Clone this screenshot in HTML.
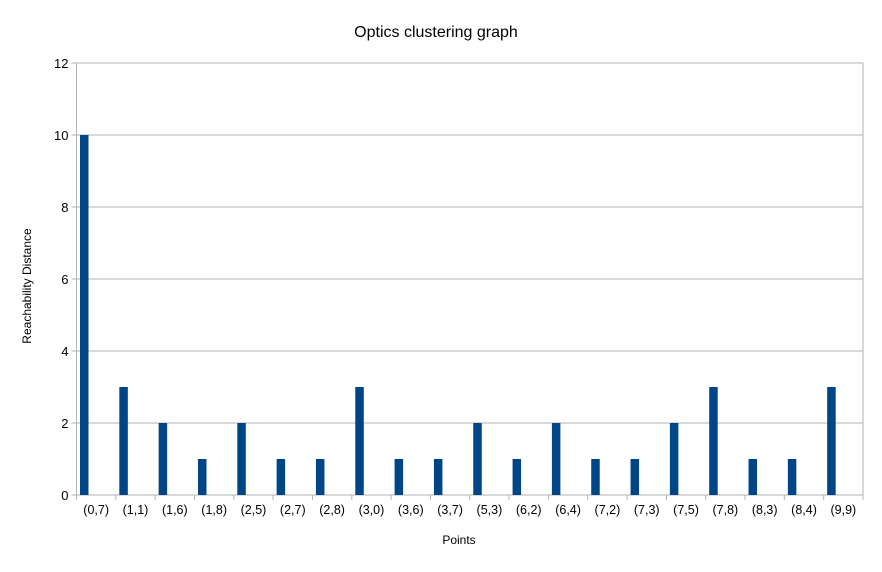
<!DOCTYPE html>
<html><head><meta charset="utf-8"><style>
body{margin:0;background:#fff;font-family:"Liberation Sans",sans-serif}
</style></head><body>
<svg id="chart" width="882" height="567" xmlns="http://www.w3.org/2000/svg" font-family="Liberation Sans, sans-serif">
<text x="436" y="37" text-anchor="middle" font-size="16" fill="#000">Optics clustering graph</text>
<text x="459" y="544" text-anchor="middle" font-size="12">Points</text>
<text transform="translate(31,286) rotate(-90)" text-anchor="middle" font-size="12">Reachability Distance</text>
<g id="grid"></g><g id="bars"></g><g id="axes"></g>
</svg>
<script>
const categories=["(0,7)","(1,1)","(1,6)","(1,8)","(2,5)","(2,7)","(2,8)","(3,0)","(3,6)","(3,7)","(5,3)","(6,2)","(6,4)","(7,2)","(7,3)","(7,5)","(7,8)","(8,3)","(8,4)","(9,9)"];
const values=[10,3,2,1,2,1,1,3,1,1,2,1,2,1,1,2,3,1,1,3];
const yTicks=[0,2,4,6,8,10,12];
const NS="http://www.w3.org/2000/svg";
const L=76.5,R=863,T=63,B=495,yMax=12;
const bw=(R-L)/categories.length;
const y=v=>B-(v/yMax)*(B-T);
const x=i=>L+i*bw;
function mk(tag,attrs,parent){const e=document.createElementNS(NS,tag);for(const k in attrs)e.setAttribute(k,attrs[k]);document.getElementById(parent).appendChild(e);return e;}
yTicks.forEach(t=>{
 const g=mk('line',{x1:L-5,x2:R,y1:y(t),y2:y(t),stroke:'#b3b3b3','stroke-width':1},'grid');
 
 
 const tx=mk('text',{x:L-8,y:y(t)+5,'text-anchor':'end','font-size':13},'axes');
 tx.textContent=t;
 
 
});
mk('line',{x1:R,x2:R,y1:T,y2:B,stroke:'#b3b3b3'},'grid');
mk('line',{x1:L,x2:L,y1:T,y2:B+5,stroke:'#b3b3b3'},'axes');
categories.forEach((c,i)=>{
 const r=mk('rect',{x:x(i)+3.5,y:y(values[i]),width:8.5,height:B-y(values[i]),fill:'#004586'},'bars');
 
 
 mk('line',{x1:x(i+1),x2:x(i+1),y1:B,y2:B+5,stroke:'#b3b3b3'},'axes');
 const t=mk('text',{x:x(i)+bw/2,y:B+19,'text-anchor':'middle','font-size':12.5},'axes');
 t.textContent=c;
 
 
});
</script>
</body></html>
